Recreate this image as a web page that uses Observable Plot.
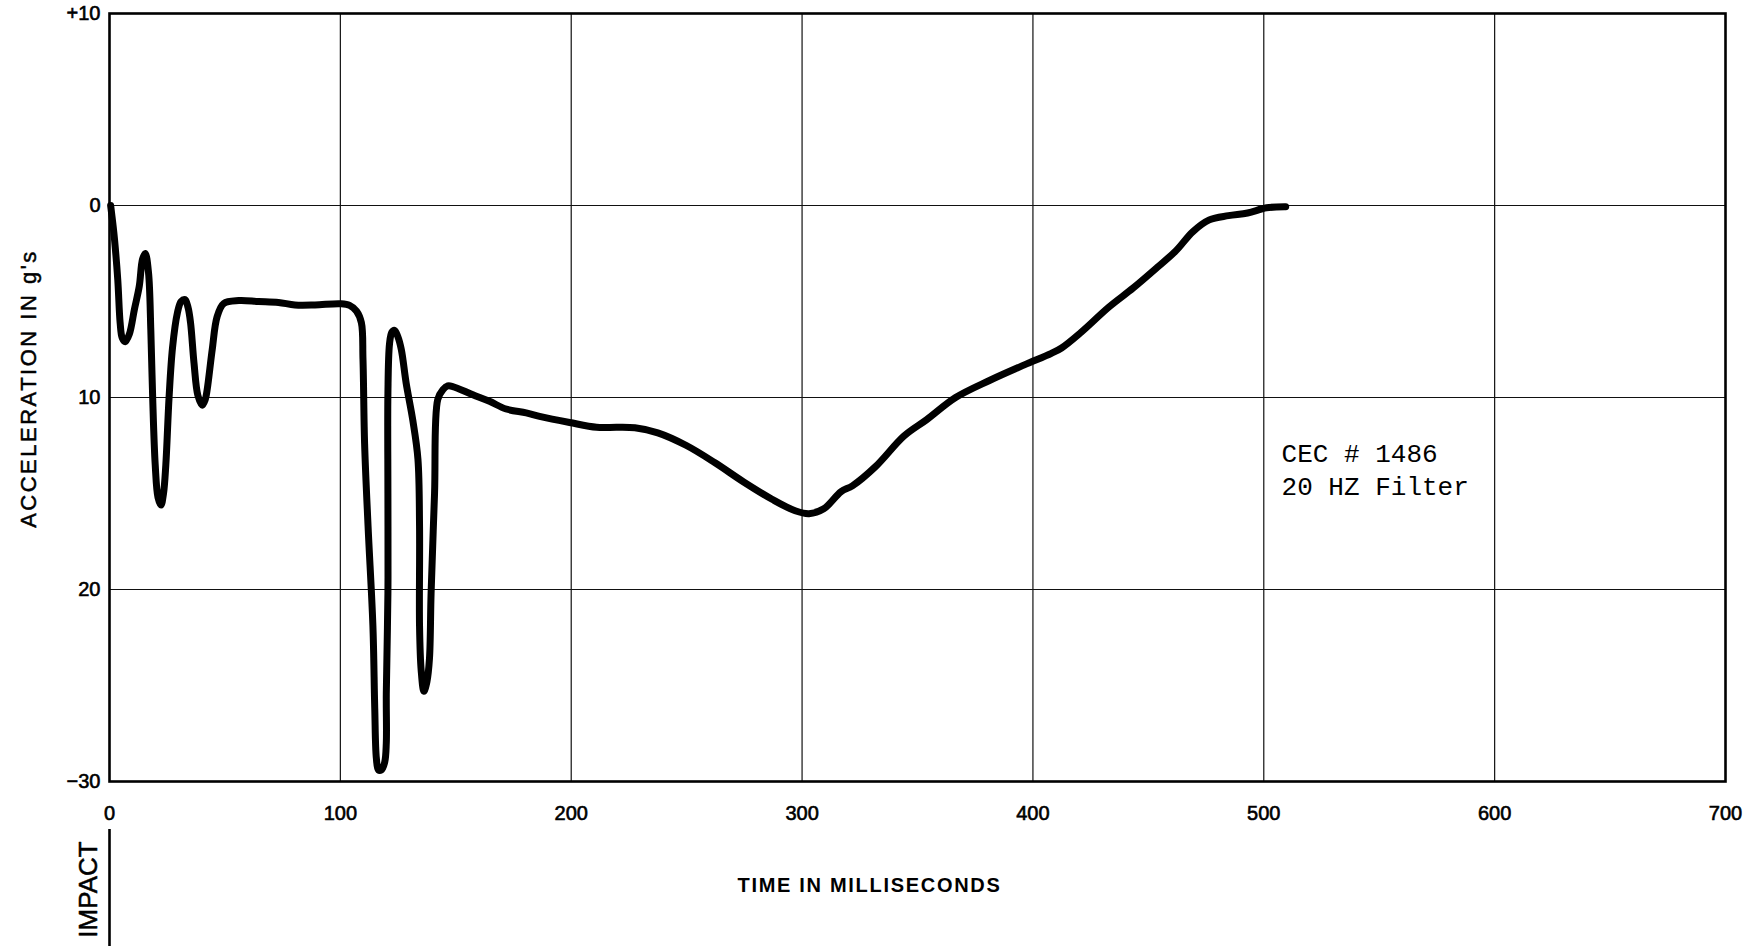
<!DOCTYPE html>
<html>
<head>
<meta charset="utf-8">
<title>Acceleration vs time — CEC # 1486</title>
<script src="https://cdn.jsdelivr.net/npm/d3@7"></script>
<script src="https://cdn.jsdelivr.net/npm/@observablehq/plot@0.6"></script>
<style>
  html, body { margin: 0; padding: 0; background: #fff; }
  #chart svg { display: block; }
  /* pen-lettered look: slightly heavier tick labels */
  #chart g[aria-label="x-axis tick label"] text,
  #chart g[aria-label="y-axis tick label"] text { stroke: #000; stroke-width: 0.6px; }
</style>
</head>
<body>
<div id="chart"></div>
<script>
// Filtered accelerometer trace (20 Hz filter), time after impact in ms
const timeMs = [
  0.5, 1.5, 2.2, 3.6, 4.6, 5.5, 6.8, 8.6, 10.8, 12.9,
  14.3, 15.5, 16.9, 17.9, 18.7, 19.8, 21, 22.3, 23.4, 24.4,
  25.8, 27.3, 29.4, 31, 32.7, 34, 35.1, 36.6, 38.3, 40.2,
  41.5, 42.3, 44.5, 46.6, 49.5, 56, 64.6, 73.2, 80.3, 89,
  100, 104, 107, 109.1, 109.8, 110.5, 112, 114.1, 114.9, 115.6,
  116.5, 117.7, 119.2, 119.9, 119.9, 120.6, 120.6, 120.6, 121.3, 122.3,
  123.5, 124.8, 126.4, 128.5, 131.4, 133.6, 134.3, 134.3, 135, 136.2,
  137.5, 138.6, 139.3, 140.8, 142.2, 144.4, 146.5, 148.7, 157.4, 164.6,
  171.8, 180.5, 186.3, 199.3, 211, 220, 227.6, 237.5, 249.9, 262.3,
  274.7, 287, 297, 303, 309.4, 316.9, 321.8, 331.8, 344.2, 354,
  366.5, 381.4, 396.3, 408, 412.4, 420.7, 433, 443.4, 453.7, 462,
  469.2, 476.4, 484.7, 493, 501.2, 509.5
];
// Acceleration in g's (negative = deceleration, drawn downward)
const accelG = [
  0, -1.0, -1.8, -3.9, -6.1, -6.9, -7.1, -6.7, -5.4, -4.2,
  -2.8, -2.5, -3.5, -6.5, -10, -13.5, -15.2, -15.6, -15.0, -13.5,
  -10, -7.4, -5.6, -5.0, -4.9, -5.3, -6.1, -8.2, -9.9, -10.4,
  -10.1, -9.6, -7.5, -5.8, -5.1, -4.95, -5.0, -5.05, -5.18, -5.18,
  -5.12, -5.2, -5.5, -6.1, -8.0, -12.4, -16.7, -21.9, -26.2, -28.8,
  -29.4, -29.4, -29.0, -28.0, -25.4, -20.2, -15.0, -9.8, -7.2, -6.6,
  -6.5, -6.8, -7.5, -9.25, -11.2, -13.2, -16.7, -21.9, -24.2, -25.3,
  -24.8, -23.6, -20.2, -15.0, -10.1, -9.6, -9.4, -9.43, -9.86, -10.2,
  -10.6, -10.8, -10.98, -11.3, -11.55, -11.55, -11.58, -11.84, -12.5, -13.4,
  -14.4, -15.3, -15.9, -16.05, -15.8, -14.9, -14.6, -13.6, -12.0, -11.15,
  -10.0, -9.1, -8.3, -7.7, -7.42, -6.62, -5.28, -4.3, -3.24, -2.35,
  -1.37, -0.75, -0.53, -0.39, -0.12, -0.07
];

const xTicks = [0, 100, 200, 300, 400, 500, 600, 700];
const yTicks = [10, 0, -10, -20, -30];
const yTickLabels = ["+10", "0", "10", "20", "\u221230"];

const xTitle = "TIME IN MILLISECONDS";
const yTitle = "ACCELERATION IN g's";
const impactLabel = "IMPACT";
const noteLines = ["CEC # 1486", "20 HZ Filter"];

const trace = timeMs.map((t, i) => ({t, g: accelG[i]}));
const yLabelOf = new Map(yTicks.map((v, i) => [v, yTickLabels[i]]));
const note = [{t: 507.7, g: -13.67, text: noteLines.join("\n")}];

const chart = Plot.plot({
  width: 1747,
  height: 946,
  marginLeft: 109,
  marginRight: 22,
  marginTop: 13,
  marginBottom: 165,
  style: {background: "#fff", color: "#000", fontFamily: "'Liberation Sans', Arial, sans-serif", fontSize: "19px"},
  x: {domain: [0, 700]},
  y: {domain: [-30, 10]},
  marks: [
    // interior grid
    Plot.ruleX(xTicks.slice(1, -1), {stroke: "#111", strokeWidth: 1.2}),
    Plot.ruleY(yTicks.slice(1, -1), {stroke: "#111", strokeWidth: 1.2}),
    Plot.frame({stroke: "#000", strokeWidth: 2.6}),
    Plot.axisX(xTicks, {tickSize: 0, tickPadding: 24, label: null, fontSize: 20}),
    Plot.axisY(yTicks, {tickSize: 0, tickPadding: 9, label: null, fontSize: 20, tickFormat: (d) => yLabelOf.get(d)}),
    // impact marker below the time origin
    Plot.ruleX([0], {y1: -32.5, y2: -38.7, stroke: "#000", strokeWidth: 2.6}),
    Plot.text([impactLabel], {frameAnchor: "bottom-left", rotate: -90, dx: -21, dy: 108, textAnchor: "middle", lineAnchor: "middle", fontSize: 26, fill: "#000", stroke: "#000", strokeWidth: 0.5}),
    // axis titles
    Plot.text([yTitle], {frameAnchor: "left", rotate: -90, dx: -81, dy: -9, textAnchor: "middle", lineAnchor: "middle", fontSize: 22, fill: "#000", stroke: "#000", strokeWidth: 0.5}),
    Plot.text([xTitle], {frameAnchor: "bottom", dx: -48, dy: 104, textAnchor: "middle", lineAnchor: "middle", fontSize: 20, fontWeight: "bold"}),
    // acceleration trace
    Plot.line(trace, {x: "t", y: "g", curve: "catmull-rom", stroke: "#000", strokeWidth: 7, strokeLinecap: "round", strokeLinejoin: "round"}),
    // run annotation
    Plot.text(note, {x: "t", y: "g", text: "text", textAnchor: "start", lineAnchor: "middle", lineHeight: 1.27, fontFamily: "'Liberation Mono', 'DejaVu Sans Mono', monospace", fontSize: 26})
  ]
});

// widen the lettering of the two axis titles
const spacing = new Map([[yTitle, "2.5px"], [xTitle, "1.7px"]]);
d3.select(chart).selectAll("text")
  .filter(function() { return spacing.has(this.textContent); })
  .style("letter-spacing", function() { return spacing.get(this.textContent); });

document.getElementById("chart").appendChild(chart);
</script>
</body>
</html>
